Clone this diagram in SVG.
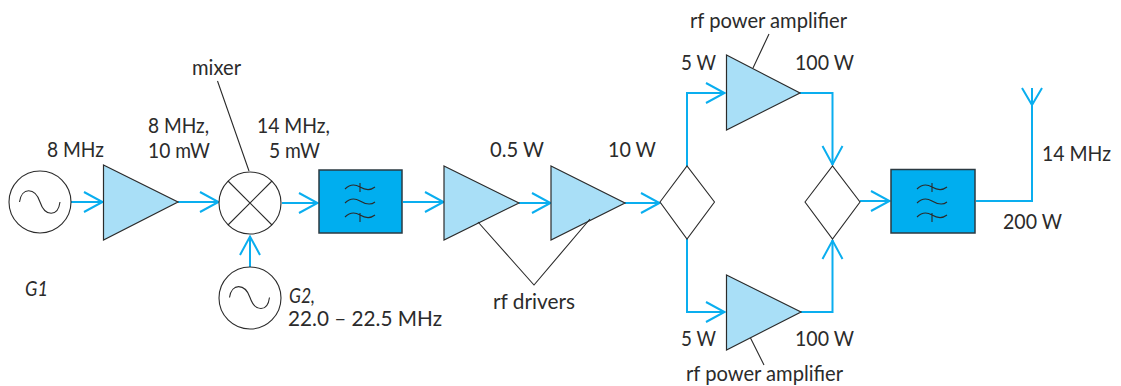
<svg xmlns="http://www.w3.org/2000/svg" width="1121" height="386" viewBox="0 0 1121 386">
<style>
text{font-family:"Lato","Liberation Sans",sans-serif;font-size:21px;fill:#2b2b2b}
.i{font-style:italic}
.c{fill:none;stroke:#0aaeef;stroke-width:2}
.t{fill:#a9dff7;stroke:#2b2b2b;stroke-width:1.2}
.f{fill:#00aeef;stroke:#2b3a42;stroke-width:1.5}
.n{fill:#fff;stroke:#2b2b2b;stroke-width:1.1}
.l{fill:none;stroke:#2b2b2b;stroke-width:1.1}
</style>
<defs>
<marker id="a" markerUnits="userSpaceOnUse" markerWidth="24" markerHeight="24" refX="20" refY="12" orient="auto"><path d="M1 2L19.5 12L1 22" fill="none" stroke="#0aaeef" stroke-width="2"/></marker>
<g id="wave"><path d="M345 189c5-5 10-5 15-2s10 4 15 0M345 203c5-5 10-5 15-2s10 5 15 1M345 217c5-5 10-5 15-2s10 4 15 0M360 183v9M360 213v9" class="l"/></g>
</defs>
<g id="connectors">
<path class="c" marker-end="url(#a)" d="M71 202H103"/>
<path class="c" marker-end="url(#a)" d="M178 202H219"/>
<path class="c" marker-end="url(#a)" d="M282 203H318"/>
<path class="c" marker-end="url(#a)" d="M250 267V236"/>
<path class="c" marker-end="url(#a)" d="M403 202H444"/>
<path class="c" marker-end="url(#a)" d="M519 203H551"/>
<path class="c" marker-end="url(#a)" d="M625 203H660"/>
<path class="c" marker-end="url(#a)" d="M687 166V93H725"/>
<path class="c" marker-end="url(#a)" d="M687 239V312H725"/>
<path class="c" marker-end="url(#a)" d="M800 93H832.500V165"/>
<path class="c" marker-end="url(#a)" d="M801 312H832.500V240"/>
<path class="c" marker-end="url(#a)" d="M860 201H890"/>
<path class="c" d="M976 201H1032V88M1022 88L1032 105L1042 88"/>
</g>
<g id="G1"><circle class="n" cx="40" cy="202" r="31"/><path class="l" d="M19.500 202C21.500 187 35 187 40 202S58 217 60 202"/><text x="25" y="296" class="i" textLength="23" lengthAdjust="spacingAndGlyphs">G1</text></g>
<g id="amp1"><path class="t" d="M103.500 165L178 202L103.500 240Z"/></g>
<g id="mixer"><circle class="n" cx="250" cy="203" r="31"/><path class="l" d="M228 181L272 225M272 181L228 225"/></g>
<g id="G2"><circle class="n" cx="250" cy="298" r="31"/><path class="l" d="M229.500 297.500C231.500 283 245 283 250 297.500S267.500 312.500 269.500 297.500"/></g>
<g id="filter1"><rect class="f" x="319" y="170" width="83" height="63"/><use href="#wave"/></g>
<g id="amp2"><path class="t" d="M444 166L519 203L444 240Z"/></g>
<g id="amp3"><path class="t" d="M551 166L625 203L551 240Z"/></g>
<g id="splitter"><path class="n" d="M660 202L687 166L714.500 202L687 239Z"/></g>
<g id="ampTop"><path class="t" d="M726.500 55L800 93L726.500 130Z"/></g>
<g id="ampBottom"><path class="t" d="M726.500 275L801 312L726.500 350Z"/></g>
<g id="combiner"><path class="n" d="M805 202L832.500 166L860 202L832.500 239Z"/></g>
<g id="filter2"><rect class="f" x="891" y="169.500" width="84" height="63.500"/><use href="#wave" x="572"/></g>
<g id="leaders"><path class="l" d="M217.500 81L249 171M769 34L753 68M750.500 338L764 365M478 222L534 285L590 219"/></g>
<g id="labels">
<text x="47" y="157" textLength="57" lengthAdjust="spacingAndGlyphs">8 MHz</text>
<text x="148" y="133" textLength="61" lengthAdjust="spacingAndGlyphs">8 MHz,</text><text x="148" y="158" textLength="62" lengthAdjust="spacingAndGlyphs">10 mW</text>
<text x="192" y="75" textLength="49" lengthAdjust="spacingAndGlyphs">mixer</text>
<text x="257" y="133" textLength="73" lengthAdjust="spacingAndGlyphs">14 MHz,</text><text x="269" y="158" textLength="51" lengthAdjust="spacingAndGlyphs">5 mW</text>
<text x="289" y="303" class="i" textLength="26" lengthAdjust="spacingAndGlyphs">G2,</text><text x="288" y="326" textLength="154" lengthAdjust="spacingAndGlyphs">22.0 – 22.5 MHz</text>
<text x="490" y="157" textLength="54" lengthAdjust="spacingAndGlyphs">0.5 W</text><text x="608" y="157" textLength="48" lengthAdjust="spacingAndGlyphs">10 W</text>
<text x="493" y="309" textLength="82" lengthAdjust="spacingAndGlyphs">rf drivers</text>
<text x="690" y="28" textLength="157" lengthAdjust="spacingAndGlyphs">rf power amplifier</text>
<text x="681" y="70" textLength="35" lengthAdjust="spacingAndGlyphs">5 W</text><text x="795" y="70" textLength="59" lengthAdjust="spacingAndGlyphs">100 W</text>
<text x="681" y="346" textLength="35" lengthAdjust="spacingAndGlyphs">5 W</text><text x="795" y="346" textLength="59" lengthAdjust="spacingAndGlyphs">100 W</text>
<text x="686" y="381" textLength="157" lengthAdjust="spacingAndGlyphs">rf power amplifier</text>
<text x="1042" y="161" textLength="69" lengthAdjust="spacingAndGlyphs">14 MHz</text><text x="1003" y="229" textLength="59" lengthAdjust="spacingAndGlyphs">200 W</text>
</g>
</svg>
